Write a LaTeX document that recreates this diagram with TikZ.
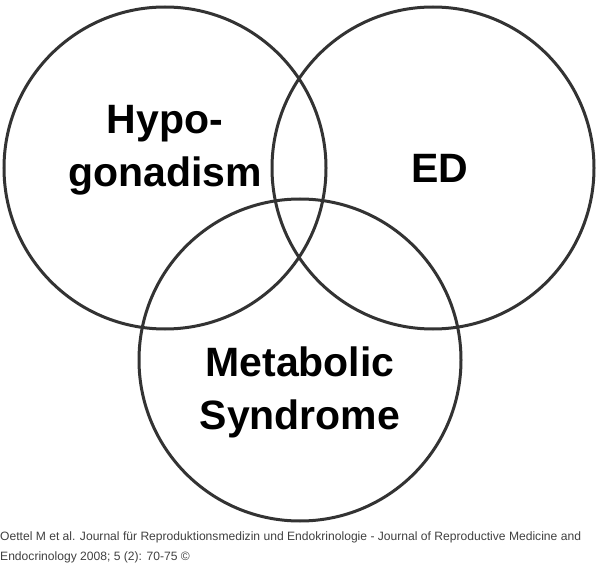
\documentclass[tikz,border=0pt]{standalone}
\usepackage{fontspec}
\setmainfont{Liberation Sans}
\begin{document}
\begin{tikzpicture}[x=1pt,y=-1pt,
  ring/.style={draw=black!80,line width=3pt},
  big/.style={font=\fontsize{41}{53}\selectfont\bfseries,align=center},
  foot/.style={font=\fontsize{12.1}{20}\selectfont,text=black!75,anchor=north west,align=left,inner sep=0pt}]
\useasboundingbox (0,0) rectangle (600,588);
\draw[ring] (165,168) circle (161);
\draw[ring] (433,168) circle (161);
\draw[ring] (300,360) circle (161);
\node[big] (h) at (165,150) {Hypo-\\gonadism};
\node[big] (ed) at (440,168) {ED};
\node[big] (m) at (300,392) {Metabolic\\Syndrome};
\node[foot] (f) at (0,532) {Oettel M et al. Journal für Reproduktionsmedizin und Endokrinologie - Journal of Reproductive Medicine and\\Endocrinology 2008; 5 (2): 70-75 ©};
\end{tikzpicture}
\end{document}
